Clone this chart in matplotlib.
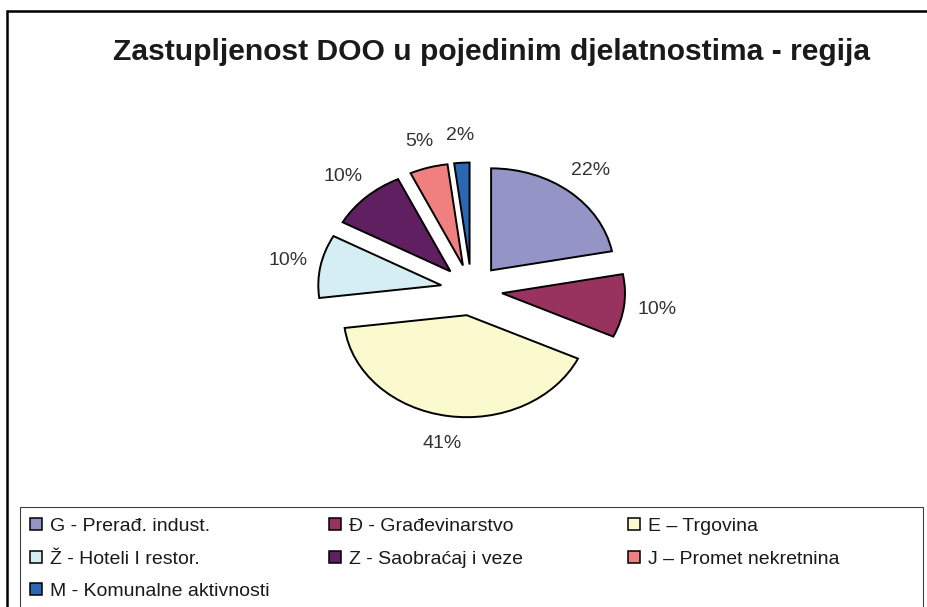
import numpy as np
import matplotlib
matplotlib.use("Agg")
from matplotlib import pyplot as plt
from matplotlib.patches import Patch, Rectangle

plt.rcParams['font.family'] = ['Liberation Sans', 'DejaVu Sans']

# podaci
sectors = ["G - Prerađ. indust.", "Đ - Građevinarstvo", "E – Trgovina",
           "Ž - Hoteli I restor.", "Z - Saobraćaj i veze", "J – Promet nekretnina",
           "M - Komunalne aktivnosti"]
shares = [22, 10, 41, 10, 10, 5, 2]
colors = ['#9494C6', '#98325F', '#FBF9CE', '#D4EEF4', '#601F60', '#F08080', '#2B67B2']

W, H = 928, 607
fig = plt.figure(figsize=(W/100, H/100), dpi=100)

# vanjski okvir
fig.patches.append(Rectangle((7/W, -0.2), 1.5, 1.2 - 11/H, transform=fig.transFigure,
                             fill=False, edgecolor='black', linewidth=1.8))

fig.text(491.5/W, 1 - 60/H, "Zastupljenost DOO u pojedinim djelatnostima - regija",
         ha='center', va='baseline', fontsize=21.6, fontweight='bold', color='#1a1a1a')

# pita - elipsa (3D izgled)
cx, cy, rx, ry = 471.5, 290, 123, 102
ax = fig.add_axes([(cx - 2*rx)/W, (H - cy - 2*ry)/H, 4*rx/W, 4*ry/H])
wedges, texts, autotexts = ax.pie(shares, colors=colors, explode=[0.25]*len(shares),
                                  startangle=90, counterclock=False,
                                  autopct='%1.0f%%', pctdistance=1.27,
                                  wedgeprops=dict(edgecolor='black', linewidth=1.4),
                                  textprops=dict(fontsize=14, color='#333333'))
ax.set_aspect('auto')
ax.set_xlim(-2, 2)
ax.set_ylim(-2, 2)
ax.axis('off')

# legenda
fig.patches.append(Rectangle((20/W, -0.2), 903/W, 0.2 + 1 - 507/H, transform=fig.transFigure,
                             fill=False, edgecolor='#404040', linewidth=0.8))
handles = [Patch(facecolor=c, edgecolor='black', linewidth=1.1) for c in colors]
columns = [[0, 3, 6], [1, 4], [2, 5]]
col_x = [30, 329, 628]
for idx, x in zip(columns, col_x):
    fig.legend([handles[i] for i in idx], [sectors[i] for i in idx],
               loc='upper left', bbox_to_anchor=(x/W, 1 - 518/H),
               frameon=False, fontsize=14, borderpad=0, borderaxespad=0,
               handlelength=0.62, handleheight=0.57, handletextpad=0.42,
               labelspacing=0.8, labelcolor='#1a1a1a')

fig.savefig("out.png", dpi=100)
